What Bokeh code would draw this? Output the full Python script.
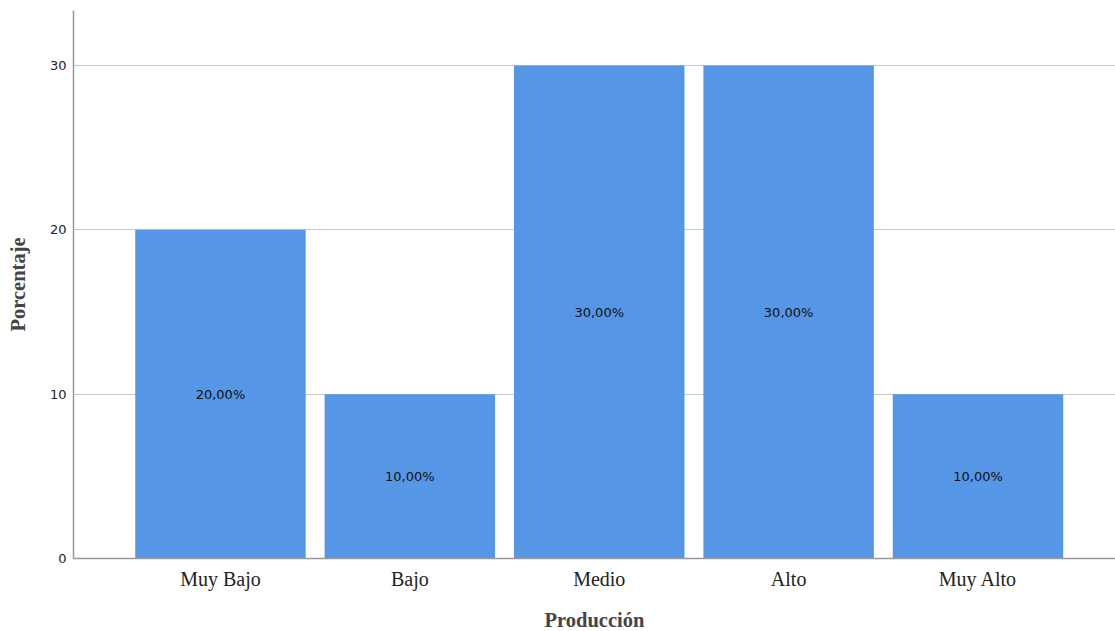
from bokeh.plotting import figure
from bokeh.models import ColumnDataSource, FixedTicker, Range1d
from bokeh.embed import file_html
from bokeh.resources import INLINE
from bokeh.core.properties import value

categories = ["Muy Bajo", "Bajo", "Medio", "Alto", "Muy Alto"]
percentages = [20.0, 10.0, 30.0, 30.0, 10.0]
y_ticks = [0, 10, 20, 30]

xs = list(range(1, len(categories) + 1))
labels = [f"{v:.2f}%".replace(".", ",") for v in percentages]
mids = [v / 2 for v in percentages]
src = ColumnDataSource(dict(x=xs, top=percentages, mid=mids, label=labels))

p = figure(width=1115, height=631, output_backend="svg", toolbar_location=None,
           x_range=Range1d(0.224, 5.726), y_range=Range1d(0, 33.35),
           frame_width=1042, frame_height=548,
           min_border_left=73, min_border_right=0, min_border_top=10, min_border_bottom=73)
p.outline_line_color = None
p.background_fill_color = "white"

p.vbar(x="x", top="top", width=0.9, source=src, fill_color="#5596E6",
       line_color="#5596E6", line_width=0)
p.text(x="x", y="mid", text="label", source=src, text_align="center",
       text_baseline="middle", text_font=value("DejaVu Sans"),
       text_font_size="13px", text_color="#111111")

p.xgrid.grid_line_color = None
p.ygrid.grid_line_color = "#c8c8c8"
p.ygrid.grid_line_width = 1
p.ygrid.ticker = FixedTicker(ticks=y_ticks)

p.yaxis.ticker = FixedTicker(ticks=y_ticks)
p.yaxis.axis_label = "Porcentaje"
p.yaxis.axis_label_text_font = "Liberation Serif"
p.yaxis.axis_label_text_font_style = "bold"
p.yaxis.axis_label_text_font_size = "20.5px"
p.yaxis.axis_label_standoff = 18
p.yaxis.major_label_text_font = "DejaVu Sans"
p.yaxis.major_label_text_font_size = "13px"
p.yaxis.major_label_text_color = "#222222"
p.yaxis.major_label_standoff = 7
p.yaxis.major_tick_out = 0
p.yaxis.major_tick_in = 0
p.yaxis.major_tick_line_color = None
p.yaxis.minor_tick_line_color = None
p.yaxis.axis_line_color = "#999999"
p.yaxis.axis_line_width = 1.5

p.xaxis.ticker = FixedTicker(ticks=xs)
p.xaxis.major_label_overrides = {x: c for x, c in zip(xs, categories)}
p.xaxis.axis_label = "Producción"
p.xaxis.axis_label_text_font = "Liberation Serif"
p.xaxis.axis_label_text_font_style = "bold"
p.xaxis.axis_label_text_font_size = "20.5px"
p.xaxis.axis_label_standoff = 16
p.xaxis.major_label_text_font = "Liberation Serif"
p.xaxis.major_label_text_font_size = "20px"
p.xaxis.major_label_text_color = "#222222"
p.xaxis.major_label_standoff = 9
p.xaxis.major_tick_out = 0
p.xaxis.major_tick_in = 0
p.xaxis.major_tick_line_color = None
p.xaxis.minor_tick_line_color = None
p.xaxis.axis_line_color = "#999999"
p.xaxis.axis_line_width = 1.5

open("out.html", "w").write(file_html(p, INLINE))
